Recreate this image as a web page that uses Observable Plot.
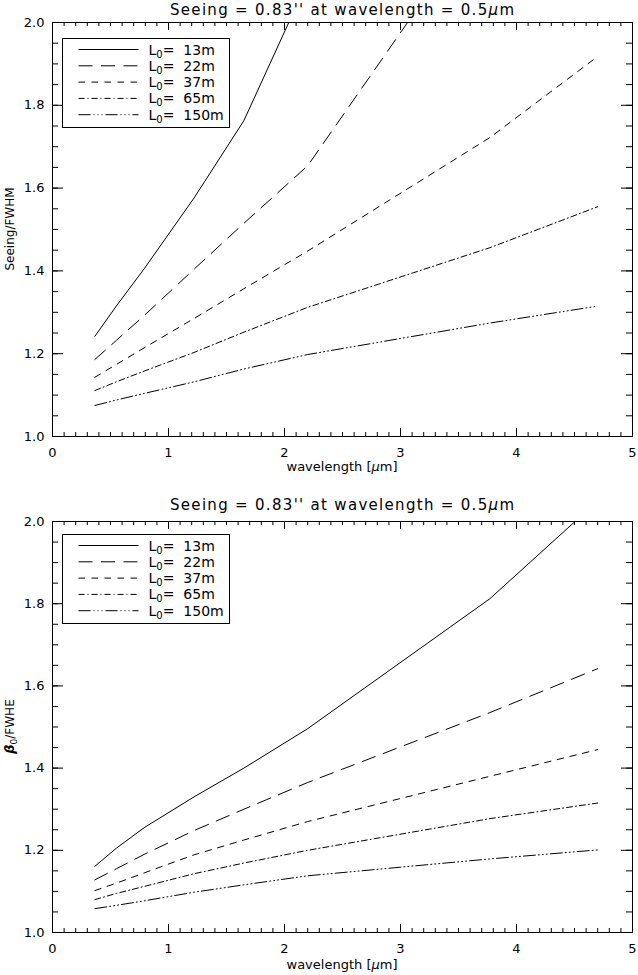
<!DOCTYPE html>
<html><head><meta charset="utf-8">
<script src="https://cdn.jsdelivr.net/npm/d3@7"></script>
<script src="https://cdn.jsdelivr.net/npm/@observablehq/plot@0.6"></script>
<style>
body{margin:0;background:#fff;}
#chart{width:638px;}
#chart svg{display:block;}
</style></head><body><div id="chart"></div>
<script>
// wavelengths (micron) of the computed points
const wavelengths = [0.365, 0.55, 0.79, 1.22, 1.65, 2.2, 3.77, 4.7];
// outer scales
const outerScales = ["13m", "22m", "37m", "65m", "150m"];
// top panel: Seeing/FWHM
const topL13  = [1.242, 1.315, 1.405, 1.576, 1.763, 2.10, null, null];
const topL22  = [1.186, 1.232, 1.292, 1.404, 1.515, 1.654, 2.285, null];
const topL37  = [1.143, 1.174, 1.214, 1.285, 1.357, 1.448, 1.722, 1.918];
const topL65  = [1.111, 1.132, 1.158, 1.203, 1.252, 1.312, 1.456, 1.555];
const topL150 = [1.075, 1.088, 1.104, 1.132, 1.163, 1.198, 1.274, 1.315];
// bottom panel: beta0/FWHE
const botL13  = [1.161, 1.205, 1.255, 1.33, 1.40, 1.496, 1.812, 2.05];
const botL22  = [1.128, 1.155, 1.19, 1.248, 1.30, 1.365, 1.535, 1.642];
const botL37  = [1.102, 1.12, 1.145, 1.189, 1.225, 1.27, 1.380, 1.445];
const botL65  = [1.080, 1.095, 1.112, 1.143, 1.169, 1.20, 1.277, 1.315];
const botL150 = [1.058, 1.066, 1.077, 1.098, 1.116, 1.138, 1.179, 1.201];
// tick labels
const xTicks = [0, 1, 2, 3, 4, 5];
const yTicks = [1.0, 1.2, 1.4, 1.6, 1.8, 2.0];
const xMinor = d3.range(0, 50).map(i => i / 10);
const yMinor = d3.range(0, 21).map(i => 1 + i * 0.05);
const titleText = "Seeing = 0.83'' at wavelength = 0.5";
const xLabel = "wavelength [";

const dashes = ["none", "14,8.5", "6.5,6.5", "6,3,1,3", "12,3,1,3,1,3,1,3"];
const FONT = "'DejaVu Sans', 'Liberation Sans', sans-serif";
const W = 638, ML = 52, MR = 6;

function decorations(o) {
  return (index, scales, values, dims) => {
    const {marginLeft: ml, marginTop: mt, marginRight: mr, marginBottom: mb, width, height} = dims;
    const g = d3.create("svg:g").attr("font-family", FONT).attr("fill", "black");
    const cx = (ml + width - mr) / 2;
    // title
    const t = g.append("text").attr("x", cx).attr("y", o.titleY).attr("text-anchor", "middle")
      .attr("font-size", 15).attr("textLength", 344).attr("lengthAdjust", "spacing");
    t.append("tspan").text(titleText);
    t.append("tspan").attr("font-style", "italic").text("μ");
    t.append("tspan").text("m");
    // x label
    const xl = g.append("text").attr("x", cx).attr("y", height - mb + o.xLabelDy).attr("text-anchor", "middle")
      .attr("font-size", 13);
    xl.append("tspan").text(xLabel);
    xl.append("tspan").attr("font-style", "italic").text("μ");
    xl.append("tspan").text("m]");
    // y label
    const yl = g.append("text").attr("transform", `translate(${o.yLabelX},${mt + (height - mt - mb) / 2}) rotate(-90)`)
      .attr("text-anchor", "middle").attr("font-size", 12);
    o.ylabel(yl);
    // legend
    const lx = ml + 10.5, ly = mt + o.legendTop;
    const lg = g.append("g");
    lg.append("rect").attr("x", lx).attr("y", ly).attr("width", 167).attr("height", 89)
      .attr("fill", "white").attr("stroke", "black").attr("stroke-width", 1);
    outerScales.forEach((s, i) => {
      const yy = ly + 11 + i * 16.3;
      lg.append("line").attr("x1", lx + 16).attr("x2", lx + 76).attr("y1", yy).attr("y2", yy)
        .attr("stroke", "black").attr("stroke-width", 1)
        .attr("stroke-dasharray", dashes[i] === "none" ? null : dashes[i]);
      const tx = lg.append("text").attr("x", lx + 86).attr("y", yy + 5).attr("font-size", 14)
        .attr("text-anchor", "start").style("white-space", "pre");
      tx.append("tspan").text("L");
      tx.append("tspan").attr("font-size", 10).attr("dy", 3).text("0");
      tx.append("tspan").attr("dy", -3).text("=  " + s);
    });
    return g.node();
  };
}

function panel(o) {
  const H = o.height - o.mt - o.mb;
  const FW = W - ML - MR;
  const lineMarks = o.series.map((ys, i) =>
    Plot.line(wavelengths.map((w, j) => ({w, v: ys[j]})), {
      x: "w", y: "v", stroke: "black", strokeWidth: 1,
      strokeDasharray: dashes[i] === "none" ? undefined : dashes[i], clip: true
    }));
  return Plot.plot({
    width: W, height: o.height,
    marginLeft: ML, marginRight: MR, marginTop: o.mt, marginBottom: o.mb,
    style: {fontFamily: FONT, color: "black", background: "white"},
    x: {domain: [0, 5], label: null},
    y: {domain: [1, 2], label: null},
    marks: [
      ...lineMarks,
      Plot.ruleX(xMinor, {insetTop: H - 4}),
      Plot.ruleX(xMinor, {insetBottom: H - 4}),
      Plot.ruleX(xTicks, {insetTop: H - 8}),
      Plot.ruleX(xTicks, {insetBottom: H - 8}),
      Plot.ruleY(yMinor, {insetRight: FW - 6}),
      Plot.ruleY(yMinor, {insetLeft: FW - 6}),
      Plot.ruleY(yTicks, {insetRight: FW - 11}),
      Plot.ruleY(yTicks, {insetLeft: FW - 11}),
      Plot.frame({stroke: "black"}),
      Plot.axisX(xTicks, {tickSize: 0, tickPadding: 11, fontSize: 13, label: null, tickFormat: d3.format("d")}),
      Plot.axisY(yTicks, {tickSize: 0, tickPadding: 8, fontSize: 13, label: null, tickFormat: d3.format(".1f")}),
      decorations(o)
    ]
  });
}

const chart = document.getElementById("chart");
chart.appendChild(panel({
  height: 488, mt: 22, mb: 52, legendTop: 16.5, titleY: 14.5, xLabelDy: 35, yLabelX: 14,
  series: [topL13, topL22, topL37, topL65, topL150],
  ylabel: (t) => { t.text("Seeing/FWHM"); }
}));
chart.appendChild(panel({
  height: 487, mt: 33, mb: 43, legendTop: 13.5, titleY: 21.5, xLabelDy: 37, yLabelX: 14,
  series: [botL13, botL22, botL37, botL65, botL150],
  ylabel: (t) => {
    t.append("tspan").attr("font-weight", "bold").attr("font-style", "italic").attr("font-size", 13).text("β");
    t.append("tspan").attr("font-size", 9).attr("dy", 3).text("0");
    t.append("tspan").attr("dy", -3).text("/FWHE");
  }
}));
</script></body></html>
